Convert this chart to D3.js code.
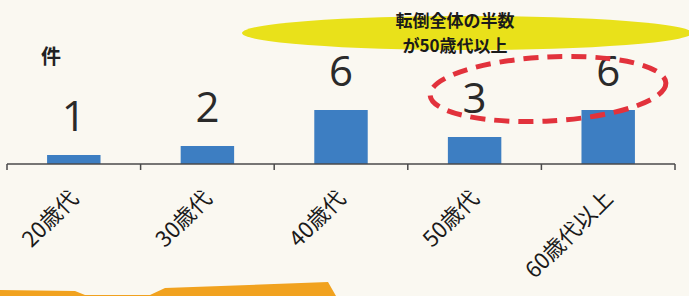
<!DOCTYPE html>
<html>
<head>
<meta charset="utf-8">
<script src="https://cdn.jsdelivr.net/npm/d3@7"></script>
<style>
  body { margin: 0; background: #faf8f1; }
  svg { display: block; }
</style>
</head>
<body>
<div id="chart"></div>
<script>
// Falls by age group
const categories = ['20歳代', '30歳代', '40歳代', '50歳代', '60歳代以上'];
const counts = [1, 2, 6, 3, 6];
const unitLabel = '件';
const noteLines = ['転倒全体の半数', 'が50歳代以上'];

const width = 689, height = 296;
const baseline = 164;

const svg = d3.select('#chart')
    .append('svg')
    .attr('width', width)
    .attr('height', height);

svg.append('rect')
    .attr('width', width)
    .attr('height', height)
    .attr('fill', '#faf8f1');

const x = d3.scaleBand()
    .domain(categories)
    .range([7, 675])
    .paddingInner(0.6)
    .paddingOuter(0.3);

const y = d3.scaleLinear()
    .domain([0, 6])
    .range([baseline, 110]);

// Yellow highlight ellipse behind the note
svg.append('ellipse')
    .attr('cx', 467)
    .attr('cy', 33)
    .attr('rx', 225)
    .attr('ry', 17)
    .attr('fill', '#e9e11a');

svg.append('g')
    .selectAll('text')
    .data(noteLines)
    .enter()
    .append('text')
    .attr('x', 455)
    .attr('y', (d, i) => 27 + i * 25)
    .attr('text-anchor', 'middle')
    .attr('font-family', 'Noto Sans CJK JP')
    .attr('font-weight', 'bold')
    .attr('font-size', 17)
    .attr('fill', '#1a1a1a')
    .text(d => d);

// Unit label
svg.append('text')
    .attr('x', 41)
    .attr('y', 64)
    .attr('font-family', 'Noto Sans CJK JP')
    .attr('font-weight', 'bold')
    .attr('font-size', 20)
    .attr('fill', '#222')
    .text(unitLabel);

// Bars
svg.append('g')
    .selectAll('rect')
    .data(counts)
    .enter()
    .append('rect')
    .attr('x', (d, i) => x(categories[i]))
    .attr('y', d => y(d))
    .attr('width', x.bandwidth())
    .attr('height', d => baseline - y(d))
    .attr('fill', '#3d7ec2');

// Value labels, floating well above each bar
svg.append('g')
    .selectAll('text')
    .data(counts)
    .enter()
    .append('text')
    .attr('x', (d, i) => x(categories[i]) + x.bandwidth() / 2)
    .attr('y', d => y(d) - 24)
    .attr('text-anchor', 'middle')
    .attr('font-family', 'Open Sans')
    .attr('font-size', 42)
    .attr('fill', '#2a2a2a')
    .text(d => d);

// Axis line and boundary ticks
const step = x.step();
const tickXs = d3.range(categories.length + 1).map(i => 7 + i * step);

svg.append('line')
    .attr('x1', 7)
    .attr('x2', 675)
    .attr('y1', baseline)
    .attr('y2', baseline)
    .attr('stroke', '#4a4a4a')
    .attr('stroke-width', 1.5);

svg.append('g')
    .selectAll('line')
    .data(tickXs)
    .enter()
    .append('line')
    .attr('x1', d => d)
    .attr('x2', d => d)
    .attr('y1', baseline)
    .attr('y2', baseline + 6)
    .attr('stroke', '#4a4a4a')
    .attr('stroke-width', 1.5);

// Rotated category labels
svg.append('g')
    .selectAll('text')
    .data(categories)
    .enter()
    .append('text')
    .attr('transform', d => `translate(${x(d) + x.bandwidth() / 2 + 6},${baseline + 36}) rotate(-45)`)
    .attr('text-anchor', 'end')
    .attr('font-family', 'Noto Sans CJK JP')
    .attr('font-size', 22)
    .attr('fill', '#1a1a1a')
    .text(d => d);

// Red dashed ellipse around the 50s and 60s+ values
svg.append('ellipse')
    .attr('cx', 548)
    .attr('cy', 89)
    .attr('rx', 118)
    .attr('ry', 32)
    .attr('transform', 'rotate(-3, 548, 89)')
    .attr('fill', 'none')
    .attr('stroke', '#e2323c')
    .attr('stroke-width', 5)
    .attr('stroke-dasharray', '15,9');

// Orange arrow fragment at the bottom edge
svg.append('path')
    .attr('d', 'M0,290 L75,291 L85,295 L150,295 L165,288 L328,282 L336,296 L0,296 Z')
    .attr('fill', '#f1a21f');
</script>
</body>
</html>
